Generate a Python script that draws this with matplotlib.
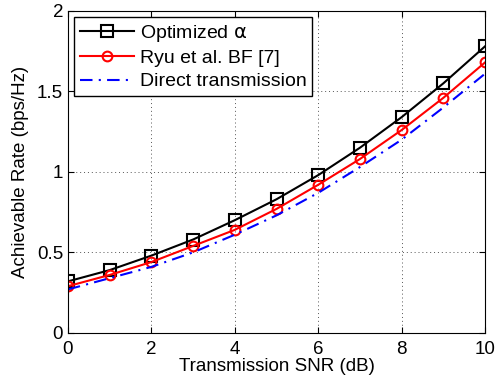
import numpy as np
import matplotlib.pyplot as plt

plt.rcParams['font.family'] = ['Liberation Sans', 'DejaVu Sans']

# data
snr_db = [0, 1, 2, 3, 4, 5, 6, 7, 8, 9, 10]
rate_opt = [0.32, 0.39, 0.48, 0.58, 0.70, 0.83, 0.98, 1.15, 1.34, 1.55, 1.78]
rate_ryu = [0.29, 0.36, 0.44, 0.54, 0.64, 0.77, 0.92, 1.08, 1.26, 1.46, 1.68]
rate_direct = [0.27, 0.34, 0.41, 0.50, 0.61, 0.73, 0.87, 1.03, 1.20, 1.40, 1.61]

fig = plt.figure(figsize=(4.96, 3.88), dpi=100)
ax = fig.add_axes([0.137, 0.142, 0.841, 0.830])

ax.plot(snr_db, rate_opt, color='black', lw=1.5, marker='s', markersize=9,
        markerfacecolor='none', markeredgewidth=1.5, label=r'Optimized $\mathrm{\alpha}$')
ax.plot(snr_db, rate_ryu, color='red', lw=1.5, marker='o', markersize=7,
        markerfacecolor='none', markeredgewidth=1.5, label='Ryu et al. BF [7]')
ax.plot(snr_db, rate_direct, color='blue', lw=1.5, linestyle=(0, (6, 3, 1, 3)),
        label='Direct transmission')

ax.set_xlim(0, 10)
ax.set_ylim(0, 2)
ax.set_xticks([0, 2, 4, 6, 8, 10])
ax.set_yticks([0, 0.5, 1, 1.5, 2])
ax.set_yticklabels(['0', '0.5', '1', '1.5', '2'])
ax.tick_params(direction='in', labelsize=13.5, top=True, right=True, length=4)
ax.tick_params(axis='x', pad=6)
ax.grid(True, linestyle=(0, (1, 3)), color='#555555', linewidth=0.7)

ax.set_xlabel('Transmission SNR (dB)', fontsize=13.5, labelpad=0)
ax.set_ylabel('Achievable Rate (bps/Hz)', fontsize=13.5, labelpad=6)

leg = ax.legend(loc='upper left', fontsize=14, fancybox=False, framealpha=1,
                edgecolor='black', borderaxespad=0.3, handlelength=2.8,
                handletextpad=0.3, borderpad=0.3, labelspacing=0.3)
leg.get_frame().set_linewidth(1.0)

fig.savefig('out.png', dpi=100)
